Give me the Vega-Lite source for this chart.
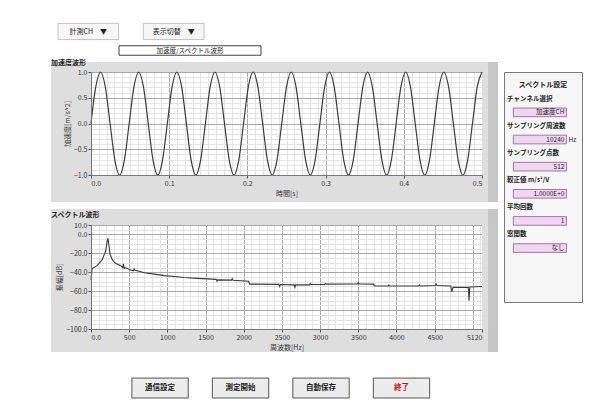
{
  "$schema": "https://vega.github.io/schema/vega-lite/v6.json",
  "background": "white",
  "padding": {"left": 50, "top": 15, "right": 0, "bottom": 0},
  "config": {
    "font": "Noto Sans CJK JP",
    "view": {"stroke": "#8a8a8a"},
    "axis": {"labelFontSize": 7, "titleFontSize": 7, "labelColor": "#333", "titleColor": "#333", "titleFontWeight": "normal", "domainColor": "#777", "tickColor": "#555", "tickSize": 3, "labelPadding": 1, "titlePadding": 3, "labelOverlap": false, "gridOpacity": 1},
    "title": {"fontSize": 7, "fontWeight": "bold", "color": "#222"}
  },
  "datasets": {
    "one": [{}],
    "wave": [
      {"t":0,"a":0},{"t":0.0061,"a":0.71},{"t":0.0122,"a":1},{"t":0.0183,"a":0.71},{"t":0.0244,"a":0},{"t":0.0305,"a":-0.71},{"t":0.0366,"a":-1},{"t":0.0427,"a":-0.71},
      {"t":0.0488,"a":0},{"t":0.0549,"a":0.71},{"t":0.061,"a":1},{"t":0.0671,"a":0.71},{"t":0.0732,"a":0},{"t":0.0793,"a":-0.71},{"t":0.0854,"a":-1},{"t":0.0915,"a":-0.71},
      {"t":0.0976,"a":0},{"t":0.1037,"a":0.71},{"t":0.1098,"a":1},{"t":0.1159,"a":0.71},{"t":0.122,"a":0},{"t":0.128,"a":-0.71},{"t":0.1341,"a":-1},{"t":0.1402,"a":-0.71},
      {"t":0.1463,"a":0},{"t":0.1524,"a":0.71},{"t":0.1585,"a":1},{"t":0.1646,"a":0.71},{"t":0.1707,"a":0},{"t":0.1768,"a":-0.71},{"t":0.1829,"a":-1},{"t":0.189,"a":-0.71},
      {"t":0.1951,"a":0},{"t":0.2012,"a":0.71},{"t":0.2073,"a":1},{"t":0.2134,"a":0.71},{"t":0.2195,"a":0},{"t":0.2256,"a":-0.71},{"t":0.2317,"a":-1},{"t":0.2378,"a":-0.71},
      {"t":0.2439,"a":0},{"t":0.25,"a":0.71},{"t":0.2561,"a":1},{"t":0.2622,"a":0.71},{"t":0.2683,"a":0},{"t":0.2744,"a":-0.71},{"t":0.2805,"a":-1},{"t":0.2866,"a":-0.71},
      {"t":0.2927,"a":0},{"t":0.2988,"a":0.71},{"t":0.3049,"a":1},{"t":0.311,"a":0.71},{"t":0.3171,"a":0},{"t":0.3232,"a":-0.71},{"t":0.3293,"a":-1},{"t":0.3354,"a":-0.71},
      {"t":0.3415,"a":0},{"t":0.3476,"a":0.71},{"t":0.3537,"a":1},{"t":0.3598,"a":0.71},{"t":0.3659,"a":0},{"t":0.372,"a":-0.71},{"t":0.378,"a":-1},{"t":0.3841,"a":-0.71},
      {"t":0.3902,"a":0},{"t":0.3963,"a":0.71},{"t":0.4024,"a":1},{"t":0.4085,"a":0.71},{"t":0.4146,"a":0},{"t":0.4207,"a":-0.71},{"t":0.4268,"a":-1},{"t":0.4329,"a":-0.71},
      {"t":0.439,"a":0},{"t":0.4451,"a":0.71},{"t":0.4512,"a":1},{"t":0.4573,"a":0.71},{"t":0.4634,"a":0},{"t":0.4695,"a":-0.71},{"t":0.4756,"a":-1},{"t":0.4817,"a":-0.71},
      {"t":0.4878,"a":0},{"t":0.4939,"a":0.71},{"t":0.5,"a":1}
    ],
    "spec": [
      {"f":0,"db":-48},{"f":15,"db":-36},{"f":80,"db":-33},{"f":145,"db":-27},{"f":190,"db":-18},{"f":212,"db":-7},{"f":222,"db":-4},{"f":232,"db":-10},{"f":250,"db":-21},{"f":280,"db":-27},{"f":320,"db":-30.5},{"f":390,"db":-33},{"f":415,"db":-35},{"f":425,"db":-31},{"f":435,"db":-36},{"f":445,"db":-35},{"f":520,"db":-37.5},{"f":555,"db":-38.5},{"f":565,"db":-36.5},{"f":575,"db":-38},{"f":630,"db":-39},{"f":700,"db":-40.5},{"f":830,"db":-42},{"f":960,"db":-43.5},{"f":1100,"db":-44.5},{"f":1220,"db":-45.5},{"f":1400,"db":-46.5},{"f":1530,"db":-47},{"f":1640,"db":-47.5},{"f":1650,"db":-49.5},{"f":1660,"db":-48},{"f":1840,"db":-48.3},{"f":1850,"db":-46.8},{"f":1860,"db":-48.5},{"f":2065,"db":-49.5},{"f":2075,"db":-52.5},{"f":2460,"db":-52.8},{"f":2470,"db":-55},{"f":2480,"db":-53},{"f":2660,"db":-53.3},{"f":2670,"db":-56},{"f":2680,"db":-53.3},{"f":2860,"db":-53.3},{"f":2870,"db":-52},{"f":2880,"db":-53},{"f":3060,"db":-52.8},{"f":3070,"db":-51.8},{"f":3080,"db":-52.5},{"f":3490,"db":-52.3},{"f":3500,"db":-51},{"f":3510,"db":-52.3},{"f":3700,"db":-52.5},{"f":3710,"db":-54.5},{"f":3890,"db":-54.5},{"f":3900,"db":-53.5},{"f":3910,"db":-54.5},{"f":4290,"db":-54.5},{"f":4300,"db":-53.5},{"f":4310,"db":-54.5},{"f":4510,"db":-54},{"f":4520,"db":-52.5},{"f":4530,"db":-54},{"f":4710,"db":-54.5},{"f":4725,"db":-60.5},{"f":4740,"db":-56},{"f":4940,"db":-56},{"f":4950,"db":-70},{"f":4960,"db":-55.5},{"f":5120,"db":-55}
    ],
    "dropdowns": [{"label": "計測CH　▼"}, {"label": "表示切替　▼"}],
    "tab": [{"label": "加速度/スペクトル波形"}],
    "settings": [
      {"line": "スペクトル設定", "kind": "head"},
      {"line": "チャンネル選択", "kind": "label"},
      {"line": "加速度CH", "kind": "value"},
      {"line": "サンプリング周波数", "kind": "label"},
      {"line": "10240", "kind": "value", "unit": "Hz"},
      {"line": "サンプリング点数", "kind": "label"},
      {"line": "512", "kind": "value"},
      {"line": "較正値 m/s²/V", "kind": "label"},
      {"line": "1.0000E+0", "kind": "value"},
      {"line": "平均回数", "kind": "label"},
      {"line": "1", "kind": "value"},
      {"line": "窓関数", "kind": "label"},
      {"line": "なし", "kind": "value"}
    ],
    "buttons": [{"label": "通信設定"}, {"label": "測定開始"}, {"label": "自動保存"}, {"label": "終了"}]
  },
  "spacing": 2,
  "vconcat": [
    {
      "width": 210, "height": 38,
      "view": {"stroke": null},
      "resolve": {"scale": {"x": "independent"}},
      "layer": [
        {
          "data": {"name": "dropdowns"},
          "mark": {"type": "bar", "fill": "#f7f7f7", "stroke": "#b5b5b5", "strokeWidth": 0.8, "height": {"band": 0.85}},
          "encoding": {
            "x": {"field": "label", "type": "nominal", "sort": null, "axis": null, "scale": {"type": "band", "range": [-33, 113], "paddingInner": 0.29, "paddingOuter": 0}},
            "y": {"datum": "dd", "type": "nominal", "axis": null, "scale": {"domain": ["dd", "tab"], "range": [7, 45], "paddingInner": 0, "paddingOuter": 0}}
          }
        },
        {
          "data": {"name": "dropdowns"},
          "mark": {"type": "text", "fontSize": 7, "color": "#222"},
          "encoding": {
            "x": {"field": "label", "type": "nominal", "sort": null, "axis": null, "bandPosition": 0.5, "scale": {"type": "band", "range": [-33, 113], "paddingInner": 0.29, "paddingOuter": 0}},
            "y": {"datum": "dd", "type": "nominal", "axis": null, "bandPosition": 0.5},
            "text": {"field": "label"}
          }
        },
        {
          "data": {"name": "tab"},
          "mark": {"type": "bar", "fill": "white", "stroke": "#444", "strokeWidth": 1, "height": {"band": 0.5}},
          "encoding": {
            "x": {"field": "label", "type": "nominal", "axis": null, "scale": {"type": "band", "range": [28, 170], "paddingInner": 0, "paddingOuter": 0}},
            "y": {"datum": "tab", "type": "nominal", "axis": null}
          }
        },
        {
          "data": {"name": "tab"},
          "mark": {"type": "text", "fontSize": 6.5, "color": "#222"},
          "encoding": {
            "x": {"field": "label", "type": "nominal", "axis": null, "bandPosition": 0.5, "scale": {"type": "band", "range": [28, 170], "paddingInner": 0, "paddingOuter": 0}},
            "y": {"datum": "tab", "type": "nominal", "axis": null, "bandPosition": 0.5},
            "text": {"field": "label"}
          }
        }
      ]
    },
    {
      "spacing": 4,
      "hconcat": [
        {
          "spacing": 5,
          "vconcat": [
            {
              "width": 391, "height": 103,
              "title": {"text": "加速度波形", "anchor": "start", "frame": "bounds", "offset": -4},
              "view": {"fill": "white", "stroke": "#8a8a8a"},
              "resolve": {"axis": {"x": "independent", "y": "independent"}},
              "layer": [
                {"data": {"name": "one"}, "mark": {"type": "rect", "fill": "#dedede"},
                 "encoding": {"x": {"datum": -0.0512, "type": "quantitative", "axis": null, "scale": {"domain": [0, 0.5], "nice": false, "zero": false}}, "x2": {"datum": 0.5205}, "y": {"datum": 1, "type": "quantitative", "axis": null, "scale": {"domain": [-1, 1], "nice": false, "zero": false}}, "y2": {"datum": 1.194}}},
                {"data": {"name": "one"}, "mark": {"type": "rect", "fill": "#dedede"},
                 "encoding": {"x": {"datum": -0.0512, "type": "quantitative", "axis": null}, "x2": {"datum": 0.5205}, "y": {"datum": -1.524, "type": "quantitative", "axis": null}, "y2": {"datum": -1}}},
                {"data": {"name": "one"}, "mark": {"type": "rect", "fill": "#dedede"},
                 "encoding": {"x": {"datum": -0.0512, "type": "quantitative", "axis": null}, "x2": {"datum": 0}, "y": {"datum": -1.524, "type": "quantitative", "axis": null}, "y2": {"datum": 1.194}}},
                {"data": {"name": "one"}, "mark": {"type": "rect", "fill": "#dedede"},
                 "encoding": {"x": {"datum": 0.5, "type": "quantitative", "axis": null}, "x2": {"datum": 0.5077}, "y": {"datum": -1.524, "type": "quantitative", "axis": null}, "y2": {"datum": 1.194}}},
                {"data": {"name": "one"}, "mark": {"type": "rect", "fill": "#c6c6c6"},
                 "encoding": {"x": {"datum": 0.5077, "type": "quantitative", "axis": null}, "x2": {"datum": 0.5205}, "y": {"datum": -1.524, "type": "quantitative", "axis": null}, "y2": {"datum": 1.194}}},
                {
                  "data": {"name": "wave"},
                  "mark": {"type": "line", "opacity": 0},
                  "encoding": {
                    "x": {"field": "t", "type": "quantitative",
                      "axis": {"orient": "top", "zindex": 0, "tickCount": 50, "grid": true, "labels": false, "ticks": false, "domain": false, "title": null,
                        "gridColor": {"condition": {"test": "abs(datum.value*10 - round(datum.value*10)) < 0.000001", "value": "#a8a8a8"}, "value": "#e3e3e3"}}},
                    "y": {"field": "a", "type": "quantitative",
                      "axis": {"orient": "right", "zindex": 0, "tickCount": 20, "grid": true, "labels": false, "ticks": false, "domain": false, "title": null,
                        "gridColor": {"condition": {"test": "abs(datum.value*2 - round(datum.value*2)) < 0.000001", "value": "#a8a8a8"}, "value": "#e3e3e3"}}}
                  }
                },
                {
                  "data": {"name": "wave"},
                  "mark": {"type": "line", "color": "#3a3a3a", "strokeWidth": 1.2, "interpolate": "monotone"},
                  "encoding": {
                    "x": {"field": "t", "type": "quantitative",
                      "axis": {"orient": "bottom", "zindex": 1, "title": "時間[s]", "values": [0, 0.1, 0.2, 0.3, 0.4, 0.5], "format": ".1f", "grid": false}},
                    "y": {"field": "a", "type": "quantitative",
                      "axis": {"orient": "left", "zindex": 1, "title": "加速度[m/s^2]", "values": [-1, -0.5, 0, 0.5, 1], "format": ".1f", "grid": false}}
                  }
                }
              ]
            },
            {
              "width": 391, "height": 104,
              "title": {"text": "スペクトル波形", "anchor": "start", "frame": "bounds", "offset": -9},
              "view": {"fill": "white", "stroke": "#8a8a8a"},
              "resolve": {"axis": {"x": "independent", "y": "independent"}},
              "layer": [
                {"data": {"name": "one"}, "mark": {"type": "rect", "fill": "#dedede"},
                 "encoding": {"x": {"datum": -524, "type": "quantitative", "axis": null, "scale": {"domain": [0, 5120], "nice": false, "zero": false}}, "x2": {"datum": 5330}, "y": {"datum": 10, "type": "quantitative", "axis": null, "scale": {"domain": [-100, 10], "nice": false, "zero": false}}, "y2": {"datum": 26.9}}},
                {"data": {"name": "one"}, "mark": {"type": "rect", "fill": "#dedede"},
                 "encoding": {"x": {"datum": -524, "type": "quantitative", "axis": null}, "x2": {"datum": 5330}, "y": {"datum": -124.3, "type": "quantitative", "axis": null}, "y2": {"datum": -100}}},
                {"data": {"name": "one"}, "mark": {"type": "rect", "fill": "#dedede"},
                 "encoding": {"x": {"datum": -524, "type": "quantitative", "axis": null}, "x2": {"datum": 0}, "y": {"datum": -124.3, "type": "quantitative", "axis": null}, "y2": {"datum": 26.9}}},
                {"data": {"name": "one"}, "mark": {"type": "rect", "fill": "#dedede"},
                 "encoding": {"x": {"datum": 5120, "type": "quantitative", "axis": null}, "x2": {"datum": 5199}, "y": {"datum": -124.3, "type": "quantitative", "axis": null}, "y2": {"datum": 26.9}}},
                {"data": {"name": "one"}, "mark": {"type": "rect", "fill": "#c6c6c6"},
                 "encoding": {"x": {"datum": 5199, "type": "quantitative", "axis": null}, "x2": {"datum": 5330}, "y": {"datum": -124.3, "type": "quantitative", "axis": null}, "y2": {"datum": 26.9}}},
                {
                  "data": {"name": "spec"},
                  "mark": {"type": "line", "opacity": 0},
                  "encoding": {
                    "x": {"field": "f", "type": "quantitative",
                      "axis": {"orient": "top", "zindex": 0, "grid": true, "labels": false, "ticks": false, "domain": false, "title": null,
                        "values": [0,100,200,300,400,500,600,700,800,900,1000,1100,1200,1300,1400,1500,1600,1700,1800,1900,2000,2100,2200,2300,2400,2500,2600,2700,2800,2900,3000,3100,3200,3300,3400,3500,3600,3700,3800,3900,4000,4100,4200,4300,4400,4500,4600,4700,4800,4900,5000,5100,5120],
                        "gridColor": {"condition": {"test": "datum.value % 500 === 0 || datum.value === 5120", "value": "#a8a8a8"}, "value": "#e3e3e3"}}},
                    "y": {"field": "db", "type": "quantitative",
                      "axis": {"orient": "right", "zindex": 0, "grid": true, "labels": false, "ticks": false, "domain": false, "title": null,
                        "values": [-100,-95,-90,-85,-80,-75,-70,-65,-60,-55,-50,-45,-40,-35,-30,-25,-20,-15,-10,-5,0,5,10],
                        "gridColor": {"condition": {"test": "datum.value % 20 === 0 || datum.value === 10", "value": "#a8a8a8"}, "value": "#e3e3e3"}}}
                  }
                },
                {
                  "data": {"name": "spec"},
                  "mark": {"type": "line", "color": "#3a3a3a", "strokeWidth": 1.1},
                  "encoding": {
                    "x": {"field": "f", "type": "quantitative",
                      "axis": {"orient": "bottom", "zindex": 1, "title": "周波数[Hz]", "grid": false,
                        "values": [0, 500, 1000, 1500, 2000, 2500, 3000, 3500, 4000, 4500, 5120],
                        "labelExpr": "datum.value === 0 ? '0.0' : format(datum.value, 'd')"}},
                    "y": {"field": "db", "type": "quantitative",
                      "axis": {"orient": "left", "zindex": 1, "title": "振幅[dB]", "grid": false,
                        "values": [-100, -80, -60, -40, -20, 0, 10], "format": ".1f"}}
                  }
                }
              ]
            }
          ]
        },
        {
          "width": 78, "height": 230,
          "data": {"name": "settings"},
          "view": {"fill": "#f6f6f6", "stroke": "#7a7a7a"},
          "encoding": {
            "y": {"field": "line", "type": "nominal", "axis": null, "scale": {"domain": ["スペクトル設定", "チャンネル選択", "加速度CH", "サンプリング周波数", "10240", "サンプリング点数", "512", "較正値 m/s²/V", "1.0000E+0", "平均回数", "1", "窓関数", "なし", " ", "  ", "   "], "paddingInner": 0.15, "paddingOuter": 0.55, "align": 0.5}}
          },
          "layer": [
            {
              "transform": [{"filter": "datum.kind === 'value'"}],
              "mark": {"type": "bar", "fill": "#f1d6f1", "stroke": "#8a5c8a", "strokeWidth": 0.8, "height": {"band": 0.75}},
              "encoding": {
                "x": {"datum": 1.2, "type": "quantitative", "axis": null, "scale": {"domain": [0, 10]}},
                "x2": {"datum": 8}
              }
            },
            {
              "transform": [{"filter": "datum.kind === 'value'"}],
              "mark": {"type": "text", "fontSize": 6.5, "align": "right", "dx": -2, "color": "#222"},
              "encoding": {
                "x": {"datum": 8, "type": "quantitative", "axis": null},
                "text": {"field": "line"}
              }
            },
            {
              "transform": [{"filter": "datum.unit"}],
              "mark": {"type": "text", "fontSize": 6.5, "align": "left", "dx": 2, "color": "#222"},
              "encoding": {
                "x": {"datum": 8, "type": "quantitative", "axis": null},
                "text": {"field": "unit"}
              }
            },
            {
              "transform": [{"filter": "datum.kind === 'label'"}],
              "mark": {"type": "text", "fontSize": 6.5, "align": "left", "color": "#222", "fontWeight": "bold"},
              "encoding": {
                "x": {"datum": 0.4, "type": "quantitative", "axis": null},
                "text": {"field": "line"}
              }
            },
            {
              "transform": [{"filter": "datum.kind === 'head'"}],
              "mark": {"type": "text", "fontSize": 7, "align": "center", "color": "#222", "fontWeight": "bold"},
              "encoding": {
                "x": {"datum": 5, "type": "quantitative", "axis": null},
                "text": {"field": "line"}
              }
            }
          ]
        }
      ]
    },
    {
      "width": 400, "height": 43,
      "data": {"name": "buttons"},
      "view": {"stroke": null},
      "encoding": {
        "x": {"field": "label", "type": "nominal", "sort": null, "axis": null, "scale": {"type": "band", "paddingInner": 0.3, "paddingOuter": 0.635, "align": 0.4}},
        "y": {"datum": "b", "type": "nominal", "axis": null, "scale": {"type": "band", "paddingOuter": 0.52, "align": 1}}
      },
      "layer": [
        {"mark": {"type": "bar", "fill": "#ececec", "stroke": "#555", "strokeWidth": 1}},
        {"mark": {"type": "text", "fontSize": 7.5, "fontWeight": "bold"},
         "encoding": {
           "x": {"field": "label", "type": "nominal", "sort": null, "axis": null, "bandPosition": 0.5},
           "y": {"datum": "b", "type": "nominal", "axis": null, "bandPosition": 0.5},
           "text": {"field": "label"},
           "color": {"condition": {"test": "datum.label === '終了'", "value": "#cc1111"}, "value": "#222"}
         }}
      ]
    }
  ]
}
